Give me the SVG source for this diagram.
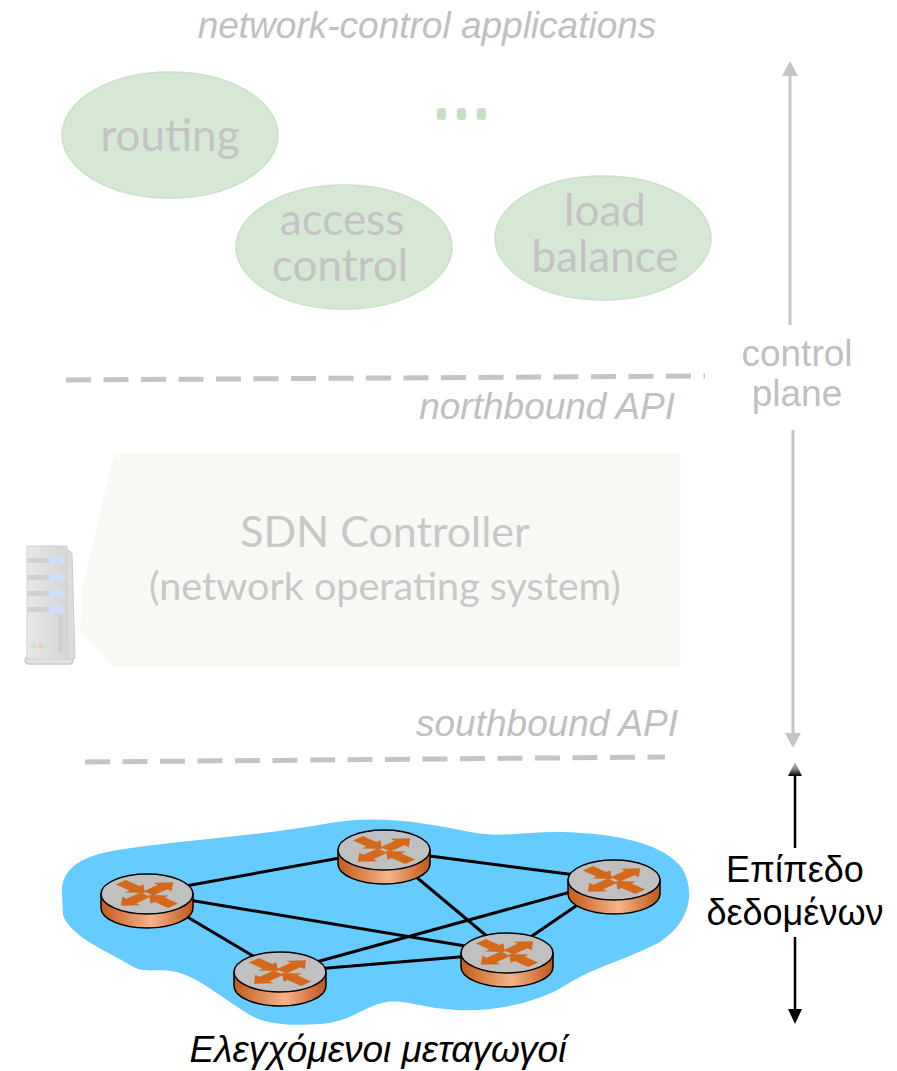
<svg xmlns="http://www.w3.org/2000/svg" width="897" height="1071" viewBox="0 0 897 1071">
  <style>
    .app { fill: #d5e8d4; stroke: #c9e1c7; stroke-width: 1.5; }
    .appText { font-family: Lato, "Open Sans", sans-serif; font-size: 44px; fill: #c3c3c3; text-anchor: middle; }
    .grayItalic { font-family: "Liberation Sans", Arial, sans-serif; font-style: italic; font-size: 37px; fill: #c0c0c0; }
    .grayText { font-family: "Liberation Sans", Arial, sans-serif; font-size: 37px; fill: #c0c0c0; text-anchor: middle; }
    .blackText { font-family: "Liberation Sans", Arial, sans-serif; font-size: 36px; fill: #000; text-anchor: middle; }
    .ctrlText { font-family: Lato, "Open Sans", sans-serif; fill: #c8c8c8; text-anchor: middle; }
    .dash { stroke: #c4c4c4; stroke-width: 5; stroke-dasharray: 25 12.5; fill: none; }
    .link { stroke: #000; stroke-width: 3; fill: none; }
    .gline { stroke: #c4c4c4; stroke-width: 3; fill: none; }
    .top { fill: #c0c0c0; stroke: #000; stroke-width: 1.5; }
    .side { fill: url(#sideGrad); stroke: #000; stroke-width: 1.5; }
    .xmark { fill: #d4691c; }
  </style>
  <defs>
    <linearGradient id="sideGrad" x1="0" y1="0" x2="1" y2="0">
      <stop offset="0" stop-color="#c45a1c"/>
      <stop offset="0.55" stop-color="#f5b489"/>
      <stop offset="1" stop-color="#c0561b"/>
    </linearGradient>
    <linearGradient id="headGrad" x1="0" y1="0" x2="0" y2="1">
      <stop offset="0" stop-color="#c4c4c4"/>
      <stop offset="0.5" stop-color="#8a8a8a"/>
      <stop offset="1" stop-color="#000"/>
    </linearGradient>
    <linearGradient id="serverGrad" x1="0" y1="0" x2="1" y2="0">
      <stop offset="0" stop-color="#e4e4e4"/>
      <stop offset="1" stop-color="#cfcfcf"/>
    </linearGradient>
    <!-- arrow pieces of the router cross, drawn along +x -->
    <polygon id="arrowOut" points="2,-7 22,-7 22,-13 37,0 22,13 22,7 2,7"/>
    <polygon id="arrowIn" points="3,0 18,-13 18,-7 37,-7 37,7 18,7 18,13"/>
    <!-- router: cylinder with a Cisco-style arrow cross on top -->
    <g id="router">
      <path class="side" d="M -46,0 L -46,14 A 46 20 0 0 0 46,14 L 46,0 Z"/>
      <ellipse class="top" cx="0" cy="0" rx="46" ry="20"/>
      <g class="xmark" transform="scale(1,0.45)">
        <use href="#arrowOut" transform="rotate(-45)"/>
        <use href="#arrowOut" transform="rotate(135)"/>
        <use href="#arrowIn" transform="rotate(-135)"/>
        <use href="#arrowIn" transform="rotate(45)"/>
      </g>
    </g>
  </defs>

  <rect width="897" height="1071" fill="#fff"/>

  <!-- application layer -->
  <text class="grayItalic" x="427" y="38" text-anchor="middle">network-control applications</text>

  <g id="app-routing">
    <ellipse class="app" cx="170" cy="135" rx="108" ry="63"/>
    <text class="appText" x="170" y="151">routing</text>
  </g>
  <g id="app-access-control">
    <ellipse class="app" cx="344" cy="247" rx="108" ry="62"/>
    <text class="appText" x="342" y="235">access</text>
    <text class="appText" x="340" y="281">control</text>
  </g>
  <g id="app-load-balance">
    <ellipse class="app" cx="603" cy="238" rx="108" ry="62"/>
    <text class="appText" x="605" y="226">load</text>
    <text class="appText" x="605" y="272">balance</text>
  </g>
  <g id="app-more" fill="#c5e0c3">
    <rect x="437" y="108" width="9" height="12" rx="3"/>
    <rect x="457" y="108" width="9" height="12" rx="3"/>
    <rect x="477" y="108" width="9" height="12" rx="3"/>
  </g>

  <!-- API boundaries -->
  <g id="northbound">
    <line class="dash" x1="66" y1="380" x2="705" y2="376"/>
    <text class="grayItalic" x="675" y="419" text-anchor="end">northbound API</text>
  </g>

  <!-- controller -->
  <g id="controller">
    <polygon points="114,453 680,453 680,667 114,667 80,632 82,590" fill="#f7f9f5"/>
    <text class="ctrlText" x="385" y="547" font-size="43">SDN Controller</text>
    <text class="ctrlText" x="385" y="600" font-size="39.5">(network operating system)</text>
  </g>

  <g id="server" opacity="0.85">
    <rect x="25" y="657" width="48" height="7" rx="3.5" fill="#dedede" stroke="#c2c2c2" stroke-width="1.5"/>
    <path d="M 66,548 L 72,553 L 75,658 L 68,660 Z" fill="#d6d6d6" stroke="#c4c4c4" stroke-width="1"/>
    <rect x="27" y="546" width="40" height="113" fill="url(#serverGrad)" stroke="#cacaca" stroke-width="1"/>
    <g fill="#c9c9c9">
      <rect x="27" y="558" width="38" height="5"/>
      <rect x="27" y="575" width="38" height="5"/>
      <rect x="27" y="591" width="38" height="5"/>
      <rect x="27" y="607" width="38" height="5"/>
    </g>
    <g fill="#c9d6ff">
      <rect x="49" y="557" width="16" height="7" rx="2"/>
      <rect x="49" y="574" width="16" height="7" rx="2"/>
      <rect x="49" y="590" width="16" height="7" rx="2"/>
      <rect x="49" y="606" width="16" height="7" rx="2"/>
    </g>
    <rect x="58" y="615" width="5" height="38" fill="#c6c6c6"/>
    <circle cx="34" cy="646" r="3" fill="#bfe6bf"/>
    <circle cx="41" cy="646" r="3" fill="#f3c0c0"/>
    <circle cx="47" cy="646" r="3" fill="#bfe6bf"/>
  </g>

  <g id="southbound">
    <text class="grayItalic" x="678" y="736" text-anchor="end">southbound API</text>
    <line class="dash" x1="85" y1="762" x2="665" y2="757"/>
  </g>

  <!-- plane labels and their arrows -->
  <g id="plane-arrows">
    <line class="gline" x1="790" y1="72" x2="790" y2="325"/>
    <polygon points="790,61 782,76 798,76" fill="#c4c4c4"/>
    <text class="grayText" x="797" y="366">control</text>
    <text class="grayText" x="797" y="406">plane</text>
    <line class="gline" x1="793" y1="430" x2="793" y2="736"/>
    <polygon points="793,748 785,733 801,733" fill="#c4c4c4"/>

    <line x1="795" y1="775" x2="795" y2="848" stroke="#000" stroke-width="2.5"/>
    <polygon points="795,762 788,776 802,776" fill="url(#headGrad)"/>
    <text class="blackText" x="795" y="882">Επίπεδο</text>
    <text class="blackText" x="795" y="925">δεδομένων</text>
    <line x1="795" y1="937" x2="795" y2="1010" stroke="#000" stroke-width="2.5"/>
    <polygon points="795,1024 788,1009 802,1009" fill="#000"/>
  </g>

  <!-- data plane network -->
  <path id="network-cloud" fill="#66ccff" d="M 62,895 C 60,868 82,856 117,850 C 180,840 260,836 330,823 C 380,815 420,822 470,832 C 500,838 520,832 560,832 C 620,833 665,845 682,868 C 696,892 690,922 660,942 C 630,958 592,968 566,985 C 540,1001 500,1012 455,1010 C 420,1008 402,998 382,1003 C 362,1008 350,1022 320,1024 C 290,1026 265,1024 250,1015 C 222,998 200,978 176,972 C 156,967 146,975 130,965 C 100,948 70,935 63,915 Z"/>

  <g id="links">
    <line class="link" x1="147" y1="893" x2="384" y2="850"/>
    <line class="link" x1="147" y1="893" x2="507" y2="953"/>
    <line class="link" x1="147" y1="893" x2="280" y2="972"/>
    <line class="link" x1="384" y1="850" x2="614" y2="880"/>
    <line class="link" x1="384" y1="850" x2="507" y2="953"/>
    <line class="link" x1="614" y1="880" x2="280" y2="972"/>
    <line class="link" x1="614" y1="880" x2="507" y2="953"/>
    <line class="link" x1="280" y1="972" x2="507" y2="953"/>
  </g>

  <g id="switch-1"><use href="#router" x="147" y="894"/></g>
  <g id="switch-2"><use href="#router" x="384" y="850"/></g>
  <g id="switch-3"><use href="#router" x="614" y="880"/></g>
  <g id="switch-4"><use href="#router" x="507" y="953"/></g>
  <g id="switch-5"><use href="#router" x="280" y="972"/></g>

  <text x="378" y="1062" font-family="'Liberation Sans', Arial, sans-serif" font-style="italic" font-size="37" text-anchor="middle" fill="#000">Ελεγχόμενοι μεταγωγοί</text>
</svg>
